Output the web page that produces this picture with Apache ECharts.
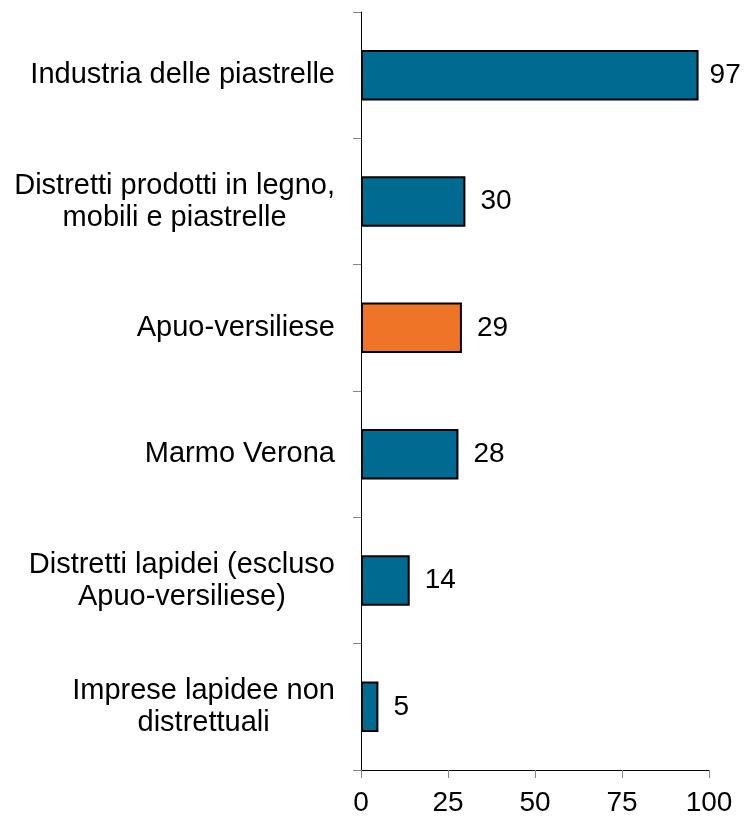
<!DOCTYPE html>
<html>
<head>
<meta charset="utf-8">
<script src="https://cdn.jsdelivr.net/npm/echarts@6/dist/echarts.min.js"></script>
<style>
html,body{margin:0;padding:0;background:#fff;}
#chart{width:744px;height:818px;}
</style>
</head>
<body>
<div id="chart"></div>
<script>
// categories top to bottom
var categories = [
	'Industria delle piastrelle',
	'Distretti prodotti in legno,\nmobili e piastrelle',
	'Apuo-versiliese',
	'Marmo Verona',
	'Distretti lapidei (escluso\nApuo-versiliese)',
	'Imprese lapidee non\ndistrettuali'
];
var values = [97, 30, 29, 28, 14, 5];
var highlight = 'Apuo-versiliese';
var xTicks = [0, 25, 50, 75, 100];

var myChart = echarts.init(document.getElementById('chart'));
var font = 'Liberation Sans, Arial, sans-serif';

var barData = [];
for (var i = 0; i < categories.length; i++) {
	barData.push({
		value: values[i],
		itemStyle: { color: categories[i] == highlight ? '#F07427' : '#006A90' },
		label: { distance: values[i] > 90 ? 11 : 15 }
	});
}

var option = {
	animation: false,
	grid: {
		left: 361,
		right: 35,
		top: 12,
		bottom: 48
	},
	xAxis: {
		type: 'value',
		min: xTicks[0],
		max: xTicks[xTicks.length - 1],
		interval: 25,
		splitLine: { show: false },
		axisLine: { show: true, lineStyle: { color: '#000', width: 1 } },
		axisTick: { show: true, length: 8, lineStyle: { color: '#888' } },
		axisLabel: {
			margin: 19,
			color: '#000',
			fontSize: 28,
			fontFamily: font
		}
	},
	yAxis: {
		type: 'category',
		inverse: true,
		data: categories,
		axisLine: { show: true, lineStyle: { color: '#000', width: 1 } },
		axisTick: { show: true, length: 8, lineStyle: { color: '#888' } },
		axisLabel: {
			margin: 26,
			align: 'right',
			formatter: function (v) {
				// centre each line inside the label block
				return v.split('\n').map(function (s) { return '{c|' + s + '}'; }).join('\n');
			},
			rich: {
				c: {
					align: 'center',
					color: '#000',
					fontSize: 29,
					lineHeight: 32,
					fontFamily: font
				}
			}
		}
	},
	series: [{
		type: 'bar',
		barWidth: '40%',
		data: barData,
		itemStyle: { borderColor: '#000', borderWidth: 2 },
		label: {
			show: true,
			position: 'right',
			color: '#000',
			fontSize: 28,
			fontFamily: font
		}
	}]
};

myChart.setOption(option);
</script>
</body>
</html>
